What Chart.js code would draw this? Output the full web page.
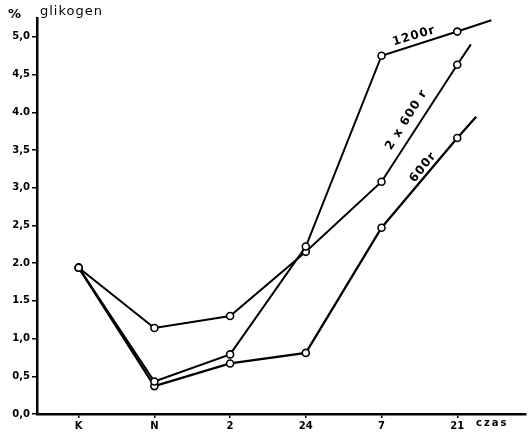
<!DOCTYPE html>
<html>
<head>
<meta charset="utf-8">
<script src="https://cdn.jsdelivr.net/npm/chart.js@4/dist/chart.umd.min.js"></script>
<style>
  body { margin: 0; background: #fff; }
</style>
</head>
<body>
<canvas id="myChart" width="531" height="434"></canvas>
<script>
// categories on the time axis
const categories = ['K', 'N', '2', '24', '7', '21'];
const yTickValues = [0, 0.5, 1, 1.5, 2, 2.5, 3, 3.5, 4, 4.5, 5];
const yTickLabels = ['0,0', '0,5', '1,0', '1.5', '2.0', '2,5', '3,0', '3,5', '4.0', '4,5', '5,0'];

// glycogen %
const s1200 = [1.94, 0.43, 0.79, 2.22, 4.75, 5.07];
const s2x600 = [1.94, 1.14, 1.30, 2.15, 3.08, 4.63];
const s600 = [1.94, 0.37, 0.67, 0.81, 2.47, 3.66];

// lines run on a bit past the last point: [x position, value]
const tail1200 = [5.45, 5.22];
const tail2x600 = [5.18, 4.9];
const tail600 = [5.25, 3.94];

const makeData = (vals, tail) =>
{
    const pts = vals.map((v, i) => ({ x: i, y: v }));
    pts.push({ x: tail[0], y: tail[1] });
    return pts;
};

const radii = (vals) => vals.map(() => 3.5).concat([0]);

const makeSet = (label, vals, tail, width) =>
{
    return {
        label: label,
        data: makeData(vals, tail),
        borderColor: '#000',
        borderWidth: width,
        pointRadius: radii(vals),
        pointBackgroundColor: '#fff',
        pointBorderColor: '#000',
        pointBorderWidth: 1.6,
        tension: 0
    };
};

// series name written along each line (in data units)
const seriesLabels = [
    { text: '1200r', x: 4.43, y: 5.01, angle: -17 },
    { text: '2 x 600 r', x: 4.33, y: 3.9, angle: -58 },
    { text: '600r', x: 4.55, y: 3.27, angle: -51 }
];

const textPlugin = {
    id: 'texts',
    afterDraw(chart)
    {
        const ctx = chart.ctx;
        const xs = chart.scales.x;
        const ys = chart.scales.y;
        ctx.save();
        ctx.fillStyle = '#000';
        ctx.textBaseline = 'middle';

        ctx.font = 'bold 13px "DejaVu Sans"';
        ctx.textAlign = 'left';
        ctx.fillText('%', 8, 15);
        ctx.font = '13px "DejaVu Sans"';
        ctx.letterSpacing = '1px';
        ctx.fillText('glikogen', 40, 12);
        ctx.font = 'bold 10px "DejaVu Sans"';
        ctx.letterSpacing = '2px';
        ctx.fillText('czas', 476, 423);

        ctx.font = 'bold 12px "DejaVu Sans"';
        ctx.letterSpacing = '1px';
        ctx.textAlign = 'center';
        seriesLabels.forEach((l) =>
        {
            ctx.save();
            ctx.translate(xs.getPixelForValue(l.x), ys.getPixelForValue(l.y));
            ctx.rotate(l.angle * Math.PI / 180);
            ctx.fillText(l.text, 0, 0);
            ctx.restore();
        });
        ctx.restore();
    }
};

const ctx = document.getElementById('myChart').getContext('2d');
const myChart = new Chart(ctx, {
    type: 'line',
    data: {
        datasets: [
            makeSet('1200r', s1200, tail1200, 2),
            makeSet('2 x 600 r', s2x600, tail2x600, 2),
            makeSet('600r', s600, tail600, 2.3)
        ]
    },
    options: {
        responsive: false,
        devicePixelRatio: 1,
        animation: false,
        layout: { padding: { top: 18, right: 0, left: 0, bottom: 0 } },
        plugins: {
            legend: { display: false },
            tooltip: { enabled: false }
        },
        scales: {
            x: {
                type: 'linear',
                min: -0.55,
                max: 5.9,
                afterFit: (s) => { s.height = 20; },
                afterBuildTicks: (s) => { s.ticks = categories.map((c, i) => ({ value: i })); },
                ticks: {
                    callback: (v, i) => categories[i],
                    color: '#000',
                    font: { family: 'DejaVu Sans', size: 10, weight: 'bold' },
                    padding: 2,
                    maxRotation: 0
                },
                grid: { drawOnChartArea: false, tickLength: 4, color: '#000', lineWidth: 1.5 },
                border: { color: '#000', width: 2.5 }
            },
            y: {
                type: 'linear',
                min: 0,
                max: 5.25,
                afterFit: (s) => { s.width = 37; },
                afterBuildTicks: (s) => { s.ticks = yTickValues.map((v) => ({ value: v })); },
                ticks: {
                    callback: (v, i) => yTickLabels[i],
                    color: '#000',
                    font: { family: 'DejaVu Sans', size: 10, weight: 'bold' },
                    padding: 2
                },
                grid: { drawOnChartArea: false, tickLength: 5, color: '#000', lineWidth: 1.5 },
                border: { color: '#000', width: 2.5 }
            }
        }
    },
    plugins: [textPlugin]
});
</script>
</body>
</html>
